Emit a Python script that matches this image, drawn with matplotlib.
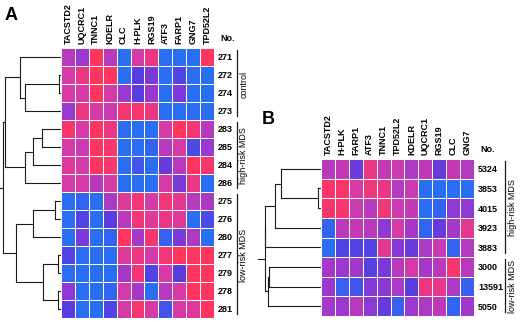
import numpy as np
import matplotlib
matplotlib.use("Agg")
import matplotlib.pyplot as plt
from matplotlib.colors import LinearSegmentedColormap

plt.rcParams['font.family'] = ['Liberation Sans', 'DejaVu Sans']

# panel A data (0 = blue/low, 4 = red/high)
genes_a = ["TACSTD2", "UQCRC1", "TNNC1", "KDELR", "CLC", "H-PLK", "RGS19",
           "ATF3", "FARP1", "GNG7", "TPD52L2"]
samples_a = ["271", "272", "274", "273", "283", "285", "284", "286",
             "275", "276", "280", "277", "279", "278", "281"]
expr_a = [
    [2.5, 2.0, 4.0, 2.5, 0.0, 3.0, 3.5, 0.0, 0.0, 0.0, 4.0],
    [3.0, 3.5, 4.0, 4.0, 0.0, 1.0, 1.5, 0.0, 0.8, 0.0, 0.0],
    [3.0, 3.0, 4.0, 3.0, 2.0, 1.0, 2.0, 0.0, 1.5, 0.0, 0.0],
    [2.0, 3.5, 3.0, 2.8, 3.8, 3.8, 3.5, 0.0, 0.0, 0.0, 0.0],
    [3.8, 3.0, 4.0, 3.5, 0.0, 0.0, 0.0, 3.0, 4.0, 3.7, 2.5],
    [3.0, 2.8, 4.0, 3.8, 0.0, 0.0, 0.2, 2.5, 3.0, 0.7, 2.0],
    [3.2, 3.0, 4.0, 3.8, 0.0, 0.5, 0.0, 1.2, 2.5, 4.0, 3.8],
    [3.0, 3.0, 2.5, 3.0, 0.0, 0.0, 0.0, 3.0, 1.5, 3.5, 0.0],
    [0.0, 0.2, 0.0, 2.3, 3.2, 3.7, 3.0, 3.7, 3.3, 2.5, 2.3],
    [0.0, 0.8, 0.0, 1.0, 2.5, 3.7, 3.2, 3.5, 3.2, 0.0, 0.7],
    [0.0, 1.5, 0.0, 0.2, 4.0, 2.2, 3.8, 0.3, 1.5, 2.3, 0.0],
    [0.8, 0.0, 0.0, 0.0, 3.2, 3.5, 3.0, 3.7, 4.0, 4.0, 4.0],
    [0.0, 0.0, 0.0, 0.0, 2.2, 3.7, 0.8, 3.0, 1.0, 4.0, 4.0],
    [1.8, 0.0, 0.0, 0.2, 3.0, 2.2, 0.0, 2.5, 3.0, 4.0, 4.0],
    [1.0, 0.0, 0.0, 0.8, 3.0, 3.8, 3.0, 0.5, 3.0, 3.2, 4.0],
]
# merges: (child, child, distance in px from heatmap edge)
tree_a = [(1, 2, 2), (15, 3, 36), (0, 16, 41),
          (4, 5, 19), (18, 6, 28), (19, 7, 36),
          (8, 9, 6), (21, 10, 28), (11, 12, 3), (13, 14, 3), (23, 24, 18),
          (22, 25, 45), (17, 20, 56), (27, 26, 58)]
groups_a = [("control", 0, 4), ("high-risk MDS", 4, 8), ("low-risk MDS", 8, 15)]

# panel B data
genes_b = ["TACSTD2", "H-PLK", "FARP1", "ATF3", "TNNC1", "TPD52L2", "KDELR",
           "UQCRC1", "RGS19", "CLC", "GNG7"]
samples_b = ["5324", "3853", "4015", "3923", "3883", "3000", "13591", "5050"]
expr_b = [
    [2.5, 2.7, 1.3, 3.5, 2.7, 2.8, 2.3, 2.6, 1.2, 2.7, 2.4],
    [3.9, 3.9, 3.0, 3.6, 3.5, 2.4, 2.8, 0.0, 0.0, 0.0, 0.0],
    [3.8, 3.8, 2.8, 2.5, 3.6, 2.8, 2.7, 0.0, 0.2, 1.8, 1.8],
    [0.2, 2.6, 2.7, 2.5, 1.8, 3.0, 2.2, 0.2, 1.2, 2.2, 3.3],
    [0.0, 0.8, 0.9, 0.8, 3.3, 1.7, 1.3, 2.3, 2.8, 0.2, 2.4],
    [2.2, 2.0, 2.1, 0.9, 1.5, 2.5, 3.0, 2.2, 2.5, 3.8, 2.5],
    [2.0, 0.3, 0.5, 1.7, 1.8, 2.3, 1.0, 3.5, 3.4, 2.3, 0.3],
    [2.2, 2.0, 2.5, 1.8, 1.2, 0.3, 2.0, 2.3, 2.6, 0.2, 2.1],
]
tree_b = [(1, 2, 3), (0, 8, 40), (9, 3, 46), (5, 6, 52), (11, 7, 53),
          (10, 4, 56), (13, 12, 56.5)]
groups_b = [("high-risk MDS", 0, 5), ("low-risk MDS", 5, 8)]

cmap = LinearSegmentedColormap.from_list(
    "bp", ["#2a6ef2", "#5a3be0", "#9a38d0", "#d63aa8", "#ff3560"])

W, H = 520, 322
fig = plt.figure(figsize=(W / 100, H / 100), dpi=100)


def px_axes(x0, y0, x1, y1):
    return fig.add_axes([x0 / W, 1 - y1 / H, (x1 - x0) / W, (y1 - y0) / H])


def draw_tree(ax, n, tree, root_len):
    xs = [0.0] * n
    ys = [i + 0.5 for i in range(n)]
    for a, b, d in tree:
        for c in (a, b):
            ax.plot([xs[c], d], [ys[c], ys[c]], color="#1a1a1a", lw=0.8)
        ax.plot([d, d], [ys[a], ys[b]], color="#1a1a1a", lw=0.8)
        xs.append(d)
        ys.append((ys[a] + ys[b]) / 2)
    ax.plot([xs[-1], root_len], [ys[-1], ys[-1]], color="#1a1a1a", lw=0.8)


def panel(hx0, hy0, hx1, hy1, dx0, genes, samples, expr, tree, groups,
          letter, letter_xy, gx):
    data = np.array(expr)
    n = len(samples)
    ax = px_axes(hx0, hy0, hx1, hy1)
    ax.pcolormesh(data, cmap=cmap, vmin=0, vmax=4, edgecolors="white",
                  linewidth=0.6)
    ax.set_xlim(0, len(genes))
    ax.set_ylim(n, 0)
    ax.xaxis.tick_top()
    ax.set_xticks(np.arange(len(genes)) + 0.5)
    ax.set_xticklabels(genes, rotation=90, fontsize=6.5, fontweight="bold")
    ax.yaxis.tick_right()
    ax.set_yticks(np.arange(n) + 0.5)
    ax.set_yticklabels(samples, fontsize=6.5, fontweight="bold")
    ax.tick_params(length=0, pad=3)
    for s in ax.spines.values():
        s.set_visible(False)
    ax.text(1.0 + 6 / (hx1 - hx0), 1.0 + 5 / (hy1 - hy0), "No.",
            transform=ax.transAxes, fontsize=6.5, fontweight="bold",
            ha="left", va="bottom")

    # group brackets
    for name, r0, r1 in groups:
        lx = gx - hx1
        ax.plot([len(genes) * (1 + lx / (hx1 - hx0))] * 2, [r0 + 0.1, r1 - 0.2],
                color="#1a1a1a", lw=0.9, clip_on=False)
        ax.text(len(genes) * (1 + (lx + 7) / (hx1 - hx0)), (r0 + r1) / 2, name,
                rotation=90, fontsize=6.5, ha="center", va="center",
                clip_on=False)

    dax = px_axes(dx0, hy0, hx0, hy1)
    draw_tree(dax, n, tree, hx0 - dx0)
    dax.set_xlim(hx0 - dx0, 0)
    dax.set_ylim(n, 0)
    dax.axis("off")

    fig.text(letter_xy[0] / W, 1 - letter_xy[1] / H, letter, fontsize=13,
             fontweight="bold", ha="left", va="top")


panel(61, 48, 214, 318, 0, genes_a, samples_a, expr_a, tree_a, groups_a,
      "A", (5, 7), 237)
panel(321, 159, 474, 316, 258, genes_b, samples_b, expr_b, tree_b, groups_b,
      "B", (262, 111), 505)

fig.savefig("out.png", dpi=100)
